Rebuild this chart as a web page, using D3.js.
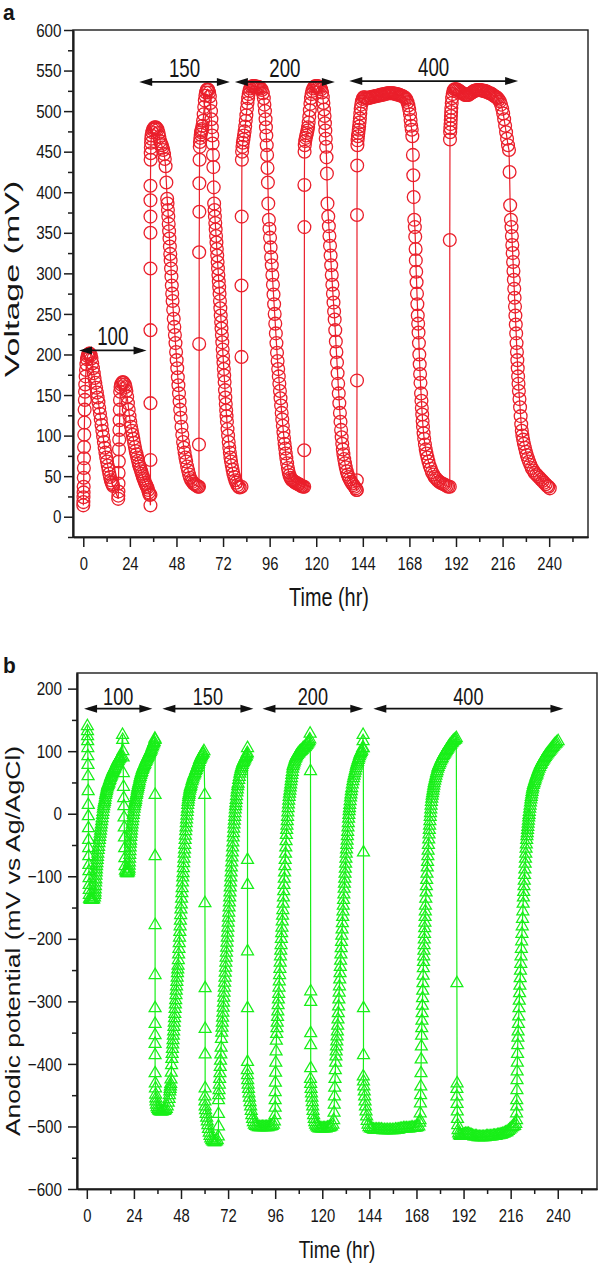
<!DOCTYPE html>
<html><head><meta charset="utf-8">
<script src="https://d3js.org/d3.v7.min.js"></script>
<style>
body{margin:0;background:#fff;}
svg{display:block;}
text{font-family:"Liberation Sans",Arial,Helvetica,sans-serif;fill:#151515;}
</style></head><body>
<svg id="chart" width="600" height="1265"></svg>
<script>
// ---------------- DATA ----------------
const timeTicks = [0,24,48,72,96,120,144,168,192,216,240];
const timeMinor = [12,36,60,84,108,132,156,180,204,228,252];
const voltTicks = [0,50,100,150,200,250,300,350,400,450,500,550,600];
const voltMinor = [-25,25,75,125,175,225,275,325,375,425,475,525,575];
const anodeTicks = [-600,-500,-400,-300,-200,-100,0,100,200];
const anodeMinor = [-550,-450,-350,-250,-150,-50,50,150];
const periodLabels = ["100","150","200","400"];
// [start time, end time, level] of each resistance period arrow
const voltPeriods = [[-2.2,32.6,205],[28.8,75.5,536],[78.1,129.6,536],[137,224,537]];
const anodePeriods = [[-1.4,33.4,168],[38.5,84.9,168],[89.5,140.9,168],[146,242.9,168]];

// Panel a: cell voltage (mV) vs time (hr)
const volt100 = [[0,14],[0.05,18],[0.1,24],[0.15,30],[0.2,37],[0.25,48],[0.3,60],[0.35,72],[0.4,86],[0.5,101],[0.6,116],[0.7,132],[0.8,144],[0.9,154],[1.0,163],[1.2,173],[1.4,181],[1.6,188],[1.9,194],[2.2,198],[2.6,200],[3.0,201],[3.4,201],[3.8,199],[4.2,195],[4.6,189],[5.0,183],[5.4,177],[5.8,171],[6.2,165],[6.6,159],[7.0,153],[7.4,147],[7.8,141],[8.2,134],[8.6,127],[9.0,120],[9.4,113],[9.8,106],[10.2,99],[10.6,92],[11.0,85],[11.4,79],[11.8,73],[12.2,68],[12.6,63],[13.0,58],[13.4,53],[13.8,49],[14.2,45],[14.6,42],[15.0,40],[15.4,38],
[18.0,22],[18.05,26],[18.1,31],[18.15,41],[18.2,54],[18.3,68],[18.4,83],[18.5,95],[18.6,107],[18.7,119],[18.8,132],[18.9,144],[19.0,154],[19.2,160],[19.5,163],[19.9,165],[20.4,166],[20.9,165],[21.4,163],[21.8,160],[22.2,155],[22.6,148],[23.0,140],[23.4,132],[23.8,124],[24.2,117],[24.6,111],[25.0,106],[25.4,101],[25.8,96],[26.2,91],[26.6,86],[27.0,81],[27.4,77],[27.8,73],[28.2,69],[28.6,65],[29.0,62],[29.4,59],[29.8,56],[30.2,53],[30.6,50],[31.0,47],[31.4,45],[31.8,42],[32.2,40],[32.6,38],[33.0,36],[33.4,33],[33.8,30],[34.1,27]];
const volt150 = [[34.6,14],[34.6,27],[34.6,70],[34.6,140],[34.6,230],[34.6,306],[34.6,350],[34.6,370],[34.6,390],[34.6,408],[34.7,440],[34.75,448],[34.8,455],[34.9,461],[35.0,466],[35.2,470],[35.5,474],[35.9,477],[36.3,479],[36.8,480],[37.3,480],[37.8,479],[38.3,477],[38.8,473],[39.2,468],[39.6,463],[40.0,460],[40.4,458],[40.8,455],[41.2,452],[41.6,447],[42.0,441],[42.4,432],[42.8,412],[43.2,392],[43.4,386],[43.6,378],[43.8,370],[44.0,361],[44.2,352],[44.4,343],[44.6,333],[44.8,324],[45.0,316],[45.2,306],[45.4,296],[45.6,285],[45.8,275],[46.0,266],[46.3,255],[46.6,244],[46.9,234],[47.2,224],[47.5,214],[47.8,203],[48.1,193],[48.4,183],[48.7,172],[49.0,162],[49.3,152],[49.6,142],[49.9,132],[50.2,122],[50.6,111],[51.0,101],[51.4,92],[51.8,85],[52.2,79],[52.6,73],[53.0,68],[53.5,62],[54.0,57],[54.5,52],[55.0,48],[55.6,45],[56.2,43],[56.8,41],[57.4,40],[58.0,39],[58.6,38],[59.2,37],
[59.6,37],[59.6,89],[59.7,213],[59.7,326],[59.8,376],[59.8,411],[59.9,440],[60.0,456],[60.1,462],[60.3,467],[60.5,471],[60.7,474],[60.9,476],[61.1,478],[61.4,482],[61.7,488],[62.0,496],[62.3,505],[62.6,513],[62.9,519],[63.2,523],[63.6,526],[64.0,527],[64.4,526],[64.8,523],[65.2,518],[65.5,510],[65.8,500],[66.0,490],[66.2,480],[66.4,470],[66.6,460],[66.8,446],[67.0,431],[67.2,406],[67.4,386],[67.6,378],[67.8,370],[68.0,362],[68.2,354],[68.4,346],[68.6,338],[68.8,330],[69.0,322],[69.2,314],[69.4,306],[69.6,298],[69.8,290],[70.0,283],[70.2,275],[70.4,266],[70.6,257],[70.8,248],[71.0,240],[71.2,232],[71.4,224],[71.6,215],[71.8,206],[72.0,198],[72.2,190],[72.4,182],[72.6,174],[72.8,166],[73.0,156],[73.2,147],[73.4,139],[73.6,131],[73.8,124],[74.0,117],[74.3,108],[74.6,100],[74.9,92],[75.2,85],[75.5,79],[75.8,73],[76.1,68],[76.5,63],[76.9,58],[77.3,53],[77.8,49],[78.3,45],[78.8,42],[79.4,39],[80.0,37],[80.6,36]];
const volt200 = [[81.5,37],[81.5,197],[81.5,285],[81.6,370],[81.7,440],[81.8,450],[82.0,456],[82.2,461],[82.5,465],[82.8,470],[83.1,475],[83.4,481],[83.7,488],[84.0,495],[84.3,503],[84.6,510],[84.9,516],[85.2,521],[85.6,525],[86.0,528],[86.6,530],[87.2,531],[87.8,531],[88.4,531],[89.0,530],[89.6,530],[90.2,530],[90.8,529],[91.4,528],[92.0,526],[92.5,522],[93.0,516],[93.3,508],[93.6,500],[93.9,490],[94.1,480],[94.3,470],[94.5,458],[94.7,446],[94.9,430],[95.1,412],[95.3,386],[95.6,366],[95.9,355],[96.2,344],[96.5,332],[96.8,320],[97.1,310],[97.4,298],[97.7,286],[98.0,274],[98.3,262],[98.6,250],[98.9,238],[99.2,226],[99.5,214],[99.8,202],[100.1,192],[100.4,182],[100.7,173],[101.0,164],[101.3,155],[101.6,146],[101.9,137],[102.2,128],[102.5,120],[102.8,112],[103.1,104],[103.4,97],[103.7,90],[104.0,84],[104.3,78],[104.6,72],[105.0,66],[105.4,60],[105.8,55],[106.2,51],[106.7,48],[107.2,46],[107.7,45],[108.2,44],[108.7,43],[109.2,42],[109.7,42],[110.2,41],[110.7,40],[111.2,40],[111.7,39],[112.2,38],[112.7,38],[113.2,37],
[113.8,37],[113.8,82],[113.9,357],[113.9,409],[114.0,450],[114.1,458],[114.3,463],[114.6,467],[114.9,470],[115.2,473],[115.5,476],[115.8,480],[116.1,486],[116.4,493],[116.7,501],[117.0,509],[117.3,516],[117.6,521],[118.0,525],[118.5,528],[119.0,530],[119.6,531],[120.2,531],[120.8,531],[121.4,530],[122.0,529],[122.5,527],[123.0,523],[123.4,517],[123.7,510],[124.0,502],[124.3,494],[124.5,485],[124.7,476],[124.9,466],[125.1,456],[125.3,443],[125.5,423],[125.8,386],[126.2,370],[126.5,358],[126.8,346],[127.1,334],[127.4,322],[127.7,310],[128.0,298],[128.3,286],[128.6,275],[128.9,264],[129.2,253],[129.5,243],[129.8,230],[130.1,216],[130.4,203],[130.7,190],[131.0,177],[131.3,164],[131.6,152],[131.9,140],[132.2,128],[132.5,117],[132.8,107],[133.1,98],[133.4,90],[133.7,83],[134.0,77],[134.4,71],[134.8,66],[135.2,61],[135.7,56],[136.2,52],[136.7,49],[137.3,46],[137.9,43],[138.5,41],[139.1,39],[139.7,37],[140.3,35],[140.8,33]];
const volt400 = [[140.9,33],[140.9,45],[141.0,168],[141.0,372],[141.1,433],[141.2,458],[141.3,464],[141.5,469],[141.7,473],[141.9,477],[142.1,481],[142.3,486],[142.5,491],[142.7,497],[142.9,503],[143.2,508],[143.5,512],[143.9,515],[144.4,517],[145.0,517],[145.6,516],[146.2,516],[146.8,516],[147.4,517],[148.0,517],[148.6,517],[149.2,518],[149.8,518],[150.4,518],[151.0,519],[151.6,519],[152.2,519],[152.8,520],[153.4,520],[154.0,520],[154.6,521],[155.2,521],[155.8,521],[156.4,522],[157.0,522],[157.6,522],[158.2,522],[158.8,522],[159.4,522],[160.0,522],[160.6,521],[161.2,521],[161.8,521],[162.4,520],[163.0,520],[163.6,519],[164.2,519],[164.8,518],[165.4,517],[166.0,516],[166.5,514],[167.0,511],[167.5,507],[167.9,502],[168.3,496],[168.6,489],[168.9,482],[169.2,477],[169.5,469],[169.8,446],[170.0,421],[170.2,394],[170.5,366],[170.8,357],[171.0,345],[171.2,330],[171.3,316],[171.5,302],[171.7,289],[171.9,275],[172.1,262],[172.3,248],[172.5,238],[172.7,227],[172.9,214],[173.1,200],[173.3,188],[173.5,176],[173.7,165],[174.0,152],[174.2,143],[174.4,134],[174.6,126],[174.8,118],[175.0,111],[175.3,103],[175.6,96],[176.0,89],[176.4,83],[176.8,78],[177.3,73],[177.8,68],[178.4,63],[179.0,59],[179.6,55],[180.3,52],[181.0,49],[181.7,47],[182.5,45],[183.3,43],[184.1,42],[184.9,41],[185.7,40],[186.5,39],[187.3,38],[188.0,37],
[188.8,37],[188.8,341],[188.9,465],[189.0,474],[189.1,479],[189.2,484],[189.3,489],[189.4,494],[189.5,499],[189.6,504],[189.8,510],[190.0,516],[190.3,521],[190.7,525],[191.2,527],[191.8,527],[192.4,527],[193.0,526],[193.6,525],[194.2,524],[194.8,523],[195.4,522],[196.0,521],[196.6,520],[197.2,520],[197.8,520],[198.4,520],[199.0,521],[199.6,522],[200.2,523],[200.8,524],[201.4,525],[202.0,525],[202.6,526],[203.2,526],[203.8,526],[204.4,526],[205.0,526],[205.6,525],[206.2,525],[206.8,525],[207.4,524],[208.0,524],[208.6,523],[209.2,522],[209.8,522],[210.4,521],[211.0,520],[211.6,519],[212.2,518],[212.8,517],[213.4,516],[214.0,514],[214.6,512],[215.2,508],[215.8,503],[216.3,497],[216.8,490],[217.3,482],[217.8,474],[218.3,466],[218.8,458],[219.3,452],[219.6,425],[219.9,384],[220.3,366],[220.6,357],[220.8,346],[221.0,335],[221.2,325],[221.4,314],[221.6,303],[221.8,292],[222.0,281],[222.2,270],[222.4,259],[222.6,248],[222.8,237],[223.0,226],[223.2,214],[223.4,203],[223.6,193],[223.8,183],[224.0,173],[224.2,164],[224.4,155],[224.7,145],[225.0,135],[225.3,124],[225.6,114],[225.9,106],[226.2,100],[226.6,95],[227.0,90],[227.5,85],[228.0,80],[228.5,76],[229.0,72],[229.6,68],[230.3,64],[231.0,60],[231.8,57],[232.6,54],[233.4,52],[234.2,50],[235.0,48],[235.8,46],[236.6,44],[237.4,42],[238.2,40],[239.0,38],[239.6,37],[240.3,35]];

// Panel b: anodic potential (mV vs Ag/AgCl) vs time (hr)
const anode100 = [[0.3,140],[0.35,132],[0.4,124],[0.45,116],[0.5,105],[0.55,92],[0.6,78],[0.65,60],[0.7,36],[0.75,14],[0.8,-4],[0.85,-23],[0.9,-42],[0.95,-55],[1.0,-68],[1.05,-82],[1.1,-92],[1.15,-103],[1.2,-114],[1.25,-122],[1.3,-130],[1.4,-136],[1.6,-137],[2.0,-138],[2.5,-138],[3.0,-138],[3.5,-137],[3.9,-134],[4.1,-130],[4.2,-126],[4.3,-121],[4.4,-116],[4.5,-110],[4.6,-105],[4.7,-99],[4.8,-94],[4.9,-89],[5.0,-84],[5.15,-79],[5.3,-74],[5.45,-69],[5.6,-64],[5.8,-58],[6.0,-53],[6.2,-47],[6.4,-42],[6.6,-37],[6.8,-32],[7.0,-27],[7.2,-22],[7.4,-17],[7.6,-12],[7.8,-7],[8.0,-2],[8.2,3],[8.4,8],[8.6,12],[8.8,16],[9.0,19],[9.2,22],[9.4,26],[9.6,30],[9.8,33],[10.0,36],[10.2,39],[10.4,42],[10.6,44],[10.8,46],[11.0,48],[11.2,49],[11.5,52],[11.7,54],[12.0,57],[12.2,59],[12.5,61],[12.7,63],[13.0,65],[13.2,67],[13.5,69],[13.7,70],[14.0,72],[14.2,73],[14.6,76],[15.0,79],[15.3,81],[15.5,82],[15.8,84],[16.0,85],[16.3,87],[16.5,88],[16.8,89],[17.0,90],[17.4,92],
[18.2,126],[18.3,118],[18.4,100],[18.5,90],[18.6,65],[18.7,43],[18.8,25],[18.9,12],[19.0,-6],[19.1,-22],[19.2,-38],[19.3,-55],[19.4,-71],[19.5,-84],[19.7,-91],[20.0,-94],[20.4,-95],[20.8,-95],[21.2,-94],[21.4,-91],[21.5,-88],[21.6,-83],[21.7,-78],[21.8,-72],[21.9,-66],[22.0,-60],[22.1,-54],[22.2,-48],[22.3,-43],[22.45,-37],[22.6,-32],[22.75,-27],[22.9,-22],[23.1,-17],[23.3,-12],[23.5,-7],[23.7,-2],[23.9,3],[24.1,8],[24.3,12],[24.5,16],[24.7,19],[24.9,22],[25.1,26],[25.3,30],[25.5,33],[25.7,37],[25.9,40],[26.1,43],[26.3,46],[26.5,49],[26.75,52],[27.0,56],[27.25,59],[27.5,62],[27.75,65],[28.0,67],[28.25,70],[28.5,72],[28.75,74],[29.0,76],[29.3,78],[29.6,80],[29.9,83],[30.2,85],[30.5,87],[30.8,89],[31.1,91],[31.4,93],[31.7,95],[32.0,97],[32.3,99],[32.6,101],[32.9,103],[33.2,106],[33.5,108],[33.8,111],[34.1,113],[34.3,115],[34.7,120]];
const anode150 = [[34.8,118],[34.8,30],[34.8,-68],[34.8,-178],[34.8,-258],[34.8,-311],[34.8,-336],[34.8,-354],[34.8,-368],[34.8,-386],[34.8,-415],[34.9,-431],[35.0,-439],[35.1,-449],[35.2,-455],[35.3,-460],[35.5,-465],[35.8,-469],[36.2,-472],[36.6,-474],[37.0,-475],[37.5,-476],[38.0,-476],[38.5,-476],[39.0,-475],[39.5,-475],[40.0,-474],[40.5,-472],[41.0,-468],[41.5,-462],[41.9,-456],[42.1,-450],[42.3,-444],[42.45,-440],[42.6,-436],[42.75,-432],[42.9,-425],[43.05,-414],[43.2,-402],[43.35,-392],[43.5,-384],[43.65,-376],[43.8,-369],[43.95,-362],[44.1,-355],[44.25,-348],[44.4,-341],[44.55,-334],[44.7,-327],[44.85,-320],[45.0,-312],[45.15,-305],[45.3,-298],[45.45,-290],[45.6,-283],[45.75,-276],[45.9,-269],[46.05,-262],[46.2,-255],[46.35,-249],[46.5,-243],[46.65,-234],[46.8,-225],[46.95,-216],[47.1,-207],[47.25,-198],[47.4,-189],[47.55,-180],[47.7,-171],[47.85,-162],[48.0,-153],[48.15,-145],[48.3,-136],[48.45,-127],[48.6,-119],[48.75,-110],[48.9,-102],[49.05,-95],[49.2,-87],[49.35,-79],[49.5,-72],[49.65,-64],[49.8,-57],[49.95,-50],[50.1,-42],[50.25,-35],[50.4,-28],[50.55,-22],[50.7,-15],[50.85,-9],[51.0,-3],[51.15,3],[51.3,8],[51.45,14],[51.6,19],[51.75,23],[51.9,27],[52.05,30],[52.2,33],[52.4,37],[52.6,40],[52.8,43],[53.0,45],[53.3,48],[53.6,52],[53.9,55],[54.2,58],[54.5,61],[54.8,63],[55.1,65],[55.4,68],[55.7,70],[56.0,73],[56.3,75],[56.6,78],[56.9,80],[57.2,83],[57.5,86],[57.8,88],[58.1,90],[58.4,92],[58.7,94],[59.0,96],[59.3,97],[59.7,100],
[60.1,30],[60.2,-143],[60.3,-279],[60.3,-344],[60.3,-385],[60.3,-439],[60.2,-452],[60.2,-460],[60.3,-468],[60.5,-474],[60.8,-480],[61.1,-486],[61.4,-492],[61.7,-498],[62.0,-504],[62.4,-510],[62.8,-515],[63.2,-519],[63.7,-522],[64.2,-524],[64.8,-525],[65.4,-525],[66.0,-524],[66.5,-522],[67.0,-516],[67.1,-500],[67.1,-480],[67.1,-458],[67.25,-450],[67.4,-442],[67.55,-433],[67.7,-424],[67.85,-415],[68.0,-405],[68.15,-395],[68.3,-385],[68.45,-374],[68.6,-360],[68.75,-350],[68.9,-342],[69.05,-334],[69.2,-326],[69.35,-318],[69.5,-310],[69.65,-302],[69.8,-294],[69.95,-286],[70.1,-278],[70.25,-270],[70.4,-262],[70.55,-254],[70.7,-246],[70.85,-238],[71.0,-230],[71.15,-222],[71.3,-214],[71.45,-206],[71.6,-198],[71.75,-190],[71.9,-182],[72.05,-174],[72.2,-166],[72.35,-158],[72.5,-150],[72.65,-142],[72.8,-134],[72.95,-126],[73.1,-118],[73.25,-110],[73.4,-102],[73.55,-94],[73.7,-86],[73.85,-78],[74.0,-70],[74.15,-62],[74.3,-54],[74.45,-46],[74.6,-38],[74.75,-31],[74.9,-24],[75.05,-17],[75.2,-11],[75.35,-5],[75.5,1],[75.65,7],[75.8,12],[75.95,17],[76.1,22],[76.3,28],[76.5,34],[76.7,39],[76.9,44],[77.1,48],[77.4,54],[77.7,59],[78.0,64],[78.3,68],[78.6,72],[78.9,75],[79.2,78],[79.5,81],[79.8,83],[80.1,85],[80.4,87],[80.7,89],[81.0,91],[81.3,92],[81.6,95],[81.8,97]];
const anode200 = [[81.9,105],[81.9,-74],[81.9,-114],[81.9,-220],[81.9,-311],[81.9,-397],[81.8,-410],[81.9,-418],[82.0,-426],[82.2,-433],[82.4,-440],[82.6,-447],[82.9,-454],[83.2,-461],[83.5,-468],[83.8,-475],[84.1,-482],[84.5,-488],[84.9,-493],[85.4,-497],[86.0,-499],[86.7,-500],[87.4,-501],[88.1,-501],[88.8,-501],[89.5,-501],[90.2,-501],[90.9,-501],[91.6,-501],[92.3,-501],[93.0,-500],[93.7,-500],[94.4,-499],[95.1,-497],[95.6,-492],[95.9,-482],[96.0,-470],[96.0,-458],[96.0,-445],[96.1,-430],[96.2,-414],[96.3,-398],[96.45,-380],[96.6,-363],[96.75,-352],[96.9,-343],[97.05,-334],[97.2,-325],[97.35,-316],[97.5,-306],[97.65,-297],[97.8,-288],[97.95,-278],[98.1,-268],[98.25,-258],[98.4,-248],[98.55,-238],[98.7,-228],[98.85,-219],[99.0,-210],[99.15,-200],[99.3,-191],[99.45,-182],[99.6,-172],[99.75,-163],[99.9,-154],[100.05,-144],[100.2,-134],[100.35,-124],[100.5,-114],[100.65,-104],[100.8,-94],[100.95,-84],[101.1,-74],[101.25,-64],[101.4,-54],[101.55,-44],[101.7,-34],[101.85,-26],[102.0,-19],[102.15,-12],[102.3,-5],[102.45,2],[102.6,9],[102.75,15],[102.9,21],[103.1,27],[103.3,32],[103.5,37],[103.7,42],[103.9,47],[104.1,52],[104.3,57],[104.5,62],[104.7,67],[104.9,72],[105.1,76],[105.4,79],[105.7,82],[106.0,85],[106.3,88],[106.6,90],[106.9,92],[107.3,94],[107.7,96],[108.1,97],[108.5,99],[108.9,100],[109.3,101],[109.7,102],[110.1,104],[110.5,105],[110.9,106],[111.3,107],[111.7,109],[112.1,110],[112.5,112],[112.9,114],[113.3,116],[113.6,119],[113.8,128],
[114.0,68],[114.1,-284],[114.1,-301],[114.1,-351],[114.1,-370],[114.1,-407],[114.0,-424],[114.1,-432],[114.3,-440],[114.5,-447],[114.7,-454],[114.9,-461],[115.1,-468],[115.3,-475],[115.6,-482],[115.9,-488],[116.2,-493],[116.6,-497],[117.1,-500],[117.7,-502],[118.4,-503],[119.1,-503],[119.8,-503],[120.5,-503],[121.2,-503],[121.9,-503],[122.6,-502],[123.3,-502],[124.0,-501],[124.7,-500],[125.4,-497],[125.8,-490],[126.0,-478],[126.1,-465],[126.2,-452],[126.35,-438],[126.5,-424],[126.65,-410],[126.8,-398],[126.95,-388],[127.1,-380],[127.25,-372],[127.4,-364],[127.55,-356],[127.7,-348],[127.85,-339],[128.0,-329],[128.15,-319],[128.3,-308],[128.45,-297],[128.6,-286],[128.75,-276],[128.9,-265],[129.05,-255],[129.2,-245],[129.35,-235],[129.5,-225],[129.65,-215],[129.8,-205],[129.95,-195],[130.1,-185],[130.25,-175],[130.4,-165],[130.55,-156],[130.7,-147],[130.85,-138],[131.0,-129],[131.15,-120],[131.3,-112],[131.45,-104],[131.6,-96],[131.75,-88],[131.9,-80],[132.05,-72],[132.2,-64],[132.35,-57],[132.5,-50],[132.65,-43],[132.8,-36],[132.95,-29],[133.1,-22],[133.25,-15],[133.4,-8],[133.55,-2],[133.7,4],[133.85,9],[134.0,14],[134.2,20],[134.4,26],[134.6,31],[134.8,36],[135.0,41],[135.3,47],[135.6,52],[135.9,57],[136.2,61],[136.5,65],[136.8,69],[137.1,73],[137.4,77],[137.7,80],[138.0,83],[138.3,86],[138.6,89],[138.9,92],[139.2,95],[139.5,97],[139.8,99],[140.1,101],[140.5,105]];
const anode400 = [[140.8,126],[140.8,116],[140.9,105],[141.0,-62],[141.0,-311],[141.0,-386],[140.9,-420],[141.0,-428],[141.2,-436],[141.4,-444],[141.6,-452],[141.8,-460],[142.0,-468],[142.3,-476],[142.6,-484],[142.9,-491],[143.3,-497],[143.8,-501],[144.5,-503],[145.3,-504],[146.1,-505],[146.9,-505],[147.7,-505],[148.5,-505],[149.3,-505],[150.1,-505],[150.9,-506],[151.7,-506],[152.5,-506],[153.3,-506],[154.1,-506],[154.9,-506],[155.7,-506],[156.5,-506],[157.3,-505],[158.1,-505],[158.9,-505],[159.7,-504],[160.5,-504],[161.3,-503],[162.1,-503],[162.9,-503],[163.7,-503],[164.5,-503],[165.3,-502],[166.1,-502],[166.9,-502],[167.7,-502],[168.5,-501],[169.2,-500],[169.6,-494],[169.8,-490],[169.9,-479],[170.0,-463],[170.1,-450],[170.2,-436],[170.3,-415],[170.4,-393],[170.5,-372],[170.6,-355],[170.7,-343],[170.8,-331],[170.9,-319],[171.0,-307],[171.1,-295],[171.2,-283],[171.3,-271],[171.4,-259],[171.5,-247],[171.6,-237],[171.7,-228],[171.8,-219],[171.9,-210],[172.0,-201],[172.1,-192],[172.2,-183],[172.3,-174],[172.4,-165],[172.5,-156],[172.6,-147],[172.75,-136],[172.9,-126],[173.05,-116],[173.2,-106],[173.35,-96],[173.5,-86],[173.65,-77],[173.8,-68],[173.95,-59],[174.1,-50],[174.25,-41],[174.4,-33],[174.55,-26],[174.7,-19],[174.85,-12],[175.0,-5],[175.15,1],[175.3,7],[175.45,13],[175.6,19],[175.8,24],[176.0,29],[176.2,33],[176.4,37],[176.6,41],[176.8,45],[177.0,49],[177.3,53],[177.6,57],[177.9,61],[178.2,65],[178.5,68],[178.8,72],[179.1,75],[179.5,78],[179.9,81],[180.3,84],[180.7,87],[181.1,89],[181.5,92],[181.9,94],[182.3,96],[182.7,98],[183.1,100],[183.5,102],[183.9,104],[184.3,106],[184.7,108],[185.1,110],[185.5,111],[185.9,113],[186.3,114],[186.7,116],[187.1,117],[187.5,118],[187.9,119],[188.3,121],
[188.6,-271],[188.7,-431],[188.6,-440],[188.6,-452],[188.7,-464],[188.8,-476],[188.9,-488],[189.0,-498],[189.2,-506],[189.5,-511],[189.9,-514],[190.4,-515],[191.0,-515],[191.7,-514],[192.4,-513],[193.1,-512],[193.8,-512],[194.5,-512],[195.2,-513],[195.9,-514],[196.6,-515],[197.3,-516],[198.0,-516],[198.7,-516],[199.4,-517],[200.1,-517],[200.8,-517],[201.5,-517],[202.2,-517],[202.9,-517],[203.6,-516],[204.3,-516],[205.0,-516],[205.7,-516],[206.4,-516],[207.1,-515],[207.8,-515],[208.5,-515],[209.2,-514],[209.9,-514],[210.6,-513],[211.3,-513],[212.0,-512],[212.7,-511],[213.4,-510],[214.1,-509],[214.8,-507],[215.5,-505],[216.2,-503],[216.8,-501],[217.4,-500],[218.0,-499],[218.6,-496],[219.0,-490],[219.0,-479],[219.1,-468],[219.1,-458],[219.2,-442],[219.25,-426],[219.3,-412],[219.4,-398],[219.5,-384],[219.6,-370],[219.7,-358],[219.8,-348],[219.95,-336],[220.1,-324],[220.25,-311],[220.4,-299],[220.55,-287],[220.7,-275],[220.85,-263],[221.0,-251],[221.15,-240],[221.3,-228],[221.45,-216],[221.6,-204],[221.75,-192],[221.9,-180],[222.05,-168],[222.2,-156],[222.35,-144],[222.5,-134],[222.65,-125],[222.8,-116],[222.95,-107],[223.1,-98],[223.25,-89],[223.4,-80],[223.55,-72],[223.7,-64],[223.85,-56],[224.0,-49],[224.15,-42],[224.3,-36],[224.45,-31],[224.6,-26],[224.75,-21],[224.9,-16],[225.05,-11],[225.2,-6],[225.35,-2],[225.5,3],[225.7,8],[225.9,13],[226.1,18],[226.3,23],[226.5,27],[226.7,31],[226.9,35],[227.1,39],[227.3,42],[227.6,46],[227.9,49],[228.2,52],[228.5,55],[228.8,58],[229.1,61],[229.4,63],[229.7,66],[230.0,69],[230.4,72],[230.8,75],[231.2,78],[231.6,80],[232.0,83],[232.4,85],[232.8,87],[233.2,89],[233.6,91],[234.0,93],[234.5,95],[235.0,97],[235.5,99],[236.0,101],[236.5,103],[237.0,105],[237.5,107],[238.0,109],[238.5,111],[239.0,112],[239.5,114],[240.2,116]];

// ---------------- DRAWING ----------------
const svg = d3.select("#chart");
const AXIS = "#1c1c1c";

function squeezeText(t, sx){ // horizontal condensation of a text element at its anchor
  const x = +t.attr("x") || 0;
  t.attr("x", 0).attr("transform", `translate(${x},0) scale(${sx},1)`);
}

function drawPanel(o){
  const g = svg.append("g");
  const x = d3.scaleLinear().domain(o.xDomain).range([o.left, o.right]);
  const y = d3.scaleLinear().domain(o.yDomain).range([o.bottom, o.top]);

  g.append("rect").attr("x", o.left).attr("y", o.top)
    .attr("width", o.right - o.left).attr("height", o.bottom - o.top)
    .attr("fill", "none").attr("stroke", AXIS).attr("stroke-width", 1.4);

  const ya = g.append("g").attr("transform", `translate(${o.left},0)`)
    .call(d3.axisLeft(y).tickValues(o.yTicks).tickSize(9).tickPadding(o.yPad).tickSizeOuter(0));
  g.append("g").attr("transform", `translate(${o.left},0)`)
    .call(d3.axisLeft(y).tickValues(o.yMinor).tickSize(5).tickFormat("").tickSizeOuter(0));
  const xa = g.append("g").attr("transform", `translate(0,${o.bottom})`)
    .call(d3.axisBottom(x).tickValues(timeTicks).tickSize(10).tickPadding(9.5).tickSizeOuter(0));
  g.append("g").attr("transform", `translate(0,${o.bottom})`)
    .call(d3.axisBottom(x).tickValues(timeMinor).tickSize(5).tickFormat("").tickSizeOuter(0));
  g.selectAll(".domain").attr("stroke", AXIS).attr("stroke-width", 1.7);
  g.selectAll(".tick line").attr("stroke", AXIS).attr("stroke-width", 1.5);
  g.selectAll(".tick text").attr("font-size", 19).attr("fill", "#151515")
    .style("font-family", '"Liberation Sans", Arial, sans-serif');
  ya.selectAll(".tick text").each(function(){ squeezeText(d3.select(this), 0.8); });
  xa.selectAll(".tick text").each(function(){ squeezeText(d3.select(this), 0.78); });

  const pts = [].concat(...o.series);
  g.append("path").datum(pts)
    .attr("d", d3.line().x(d => x(d[0])).y(d => y(d[1])))
    .attr("fill", "none").attr("stroke", o.color).attr("stroke-width", 1.2);
  if (o.marker === "circle") {
    g.append("g").selectAll("circle").data(pts).join("circle")
      .attr("cx", d => x(d[0])).attr("cy", d => y(d[1])).attr("r", 6.4)
      .attr("fill", "none").attr("stroke", o.color).attr("stroke-width", 1.3);
  } else {
    const sym = d3.symbol(d3.symbolTriangle, 62);
    g.append("g").selectAll("path").data(pts).join("path")
      .attr("d", sym).attr("transform", d => `translate(${x(d[0])},${y(d[1])})`)
      .attr("fill", "none").attr("stroke", o.color).attr("stroke-width", 1.25);
  }

  o.periods.forEach((p, i) => {
    const x0 = x(p[0]), x1 = x(p[1]), yy = y(p[2]);
    g.append("line").attr("x1", x0 + 4).attr("x2", x1 - 4).attr("y1", yy).attr("y2", yy)
      .attr("stroke", "#111").attr("stroke-width", 1.6);
    g.append("path").attr("d", `M${x0},${yy} L${x0+13},${yy-4} L${x0+13},${yy+4} Z`).attr("fill", "#111");
    g.append("path").attr("d", `M${x1},${yy} L${x1-13},${yy-4} L${x1-13},${yy+4} Z`).attr("fill", "#111");
    const t = g.append("text").attr("x", (x0 + x1) / 2).attr("y", yy - o.labelGap)
      .attr("text-anchor", "middle").attr("font-size", o.labelSize).text(periodLabels[i]);
    squeezeText(t, o.labelSqueeze);
  });

  const tx = g.append("text").attr("x", o.xTitle[0]).attr("y", o.xTitle[1])
    .attr("text-anchor", "middle").attr("font-size", o.xTitle[2]).text("Time (hr)");
  squeezeText(tx, o.xTitle[3]);
  g.append("text").attr("text-anchor", "middle").attr("font-size", o.yTitle[2])
    .attr("transform", `translate(${o.yTitle[0]},${o.yTitle[1]}) rotate(-90) scale(1,${o.yTitle[3]})`)
    .text(o.yTitleText);
  const lt = g.append("text").attr("x", 3).attr("y", o.letterY).attr("font-size", 22)
    .attr("font-weight", "bold").text(o.letter);
  squeezeText(lt, 0.95);
}

drawPanel({
  left: 73, right: 588, top: 30, bottom: 537,
  xDomain: [-5.3, 260], yDomain: [-25, 600],
  yTicks: voltTicks, yMinor: voltMinor, yPad: 2.5,
  series: [volt100, volt150, volt200, volt400], color: "#ea1f2b", marker: "circle",
  periods: voltPeriods, labelGap: 5, labelSize: 26, labelSqueeze: 0.72,
  xTitle: [329, 606, 26.5, 0.75], yTitle: [19, 279, 34, 0.6], yTitleText: "Voltage (mV)",
  letter: "a", letterY: 20
});

drawPanel({
  left: 77, right: 597, top: 673, bottom: 1189,
  xDomain: [-5, 260], yDomain: [-600, 225],
  yTicks: anodeTicks, yMinor: anodeMinor, yPad: 6,
  series: [anode100, anode150, anode200, anode400], color: "#18ef18", marker: "triangle",
  periods: anodePeriods, labelGap: 4, labelSize: 23.5, labelSqueeze: 0.77,
  xTitle: [337, 1258, 23, 0.83], yTitle: [20, 941, 26.5, 0.79], yTitleText: "Anodic potential (mV vs Ag/AgCl)",
  letter: "b", letterY: 673
});
</script>
</body></html>
